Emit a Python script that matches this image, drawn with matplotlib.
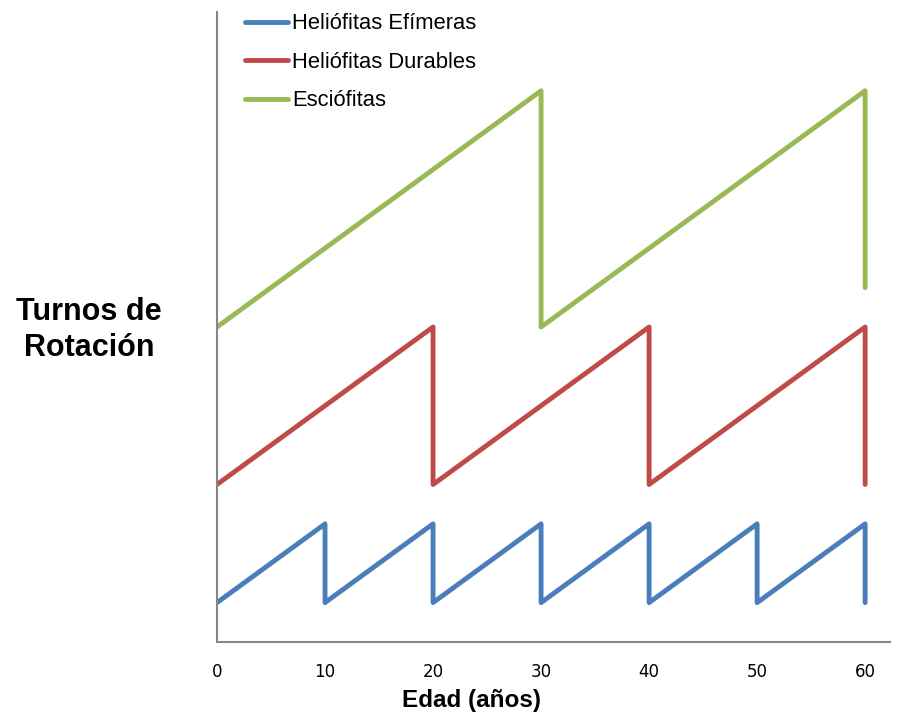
import numpy as np
import matplotlib
matplotlib.use("Agg")
import matplotlib.pyplot as plt

# datos (turnos de rotacion vs edad)
efimeras_x = [0, 10, 10, 20, 20, 30, 30, 40, 40, 50, 50, 60, 60]
efimeras_y = [1, 3, 1, 3, 1, 3, 1, 3, 1, 3, 1, 3, 1]

durables_x = [0, 20, 20, 40, 40, 60, 60]
durables_y = [4, 8, 4, 8, 4, 8, 4]

esciofitas_x = [0, 30, 30, 60, 60]
esciofitas_y = [8, 14, 8, 14, 9]

nombres = ["Heliófitas Efímeras", "Heliófitas Durables", "Esciófitas"]
colores = ["#4A7EBB", "#BE4B48", "#98B954"]
ticks_x = [0, 10, 20, 30, 40, 50, 60]

plt.rcParams['font.family'] = ['Liberation Sans', 'DejaVu Sans']

fig = plt.figure(figsize=(9.07, 7.23), dpi=100)
ax = fig.add_axes([217/907, 1-642/723, (890-217)/907, (642-12)/723])

series = [(efimeras_x, efimeras_y), (durables_x, durables_y), (esciofitas_x, esciofitas_y)]
for (xs, ys), nom, col in zip(series, nombres, colores):
    ax.plot(xs, ys, color=col, lw=3.5, label=nom,
            solid_joinstyle='round', solid_capstyle='round')

ax.set_xlim(0, 62.3)
ax.set_ylim(0, 16)
ax.set_yticks([])
ax.set_xticks(ticks_x)
ax.set_xticklabels([str(t) for t in ticks_x],
                   family=['Liberation Sans Narrow', 'DejaVu Sans'], fontsize=12)
ax.tick_params(axis='x', length=0, pad=15)

for s in ['top', 'right']:
    ax.spines[s].set_visible(False)
for s in ['left', 'bottom']:
    ax.spines[s].set_color('#868686')
    ax.spines[s].set_linewidth(1.5)

leg = ax.legend(loc='upper left', bbox_to_anchor=(0.0416, 0.998), frameon=False,
                fontsize=15.8, handlelength=1.95, handletextpad=0.2,
                labelspacing=0.8, borderpad=0, borderaxespad=0)

fig.text(471/907, 1-700/723, "Edad (años)", fontsize=17.5, fontweight='bold',
         ha='center', va='center')
fig.text(89/907, 1-330/723, "Turnos de\nRotación", fontsize=22, fontweight='bold',
         ha='center', va='center', multialignment='center', linespacing=1.27)

fig.savefig("out.png", dpi=100)
